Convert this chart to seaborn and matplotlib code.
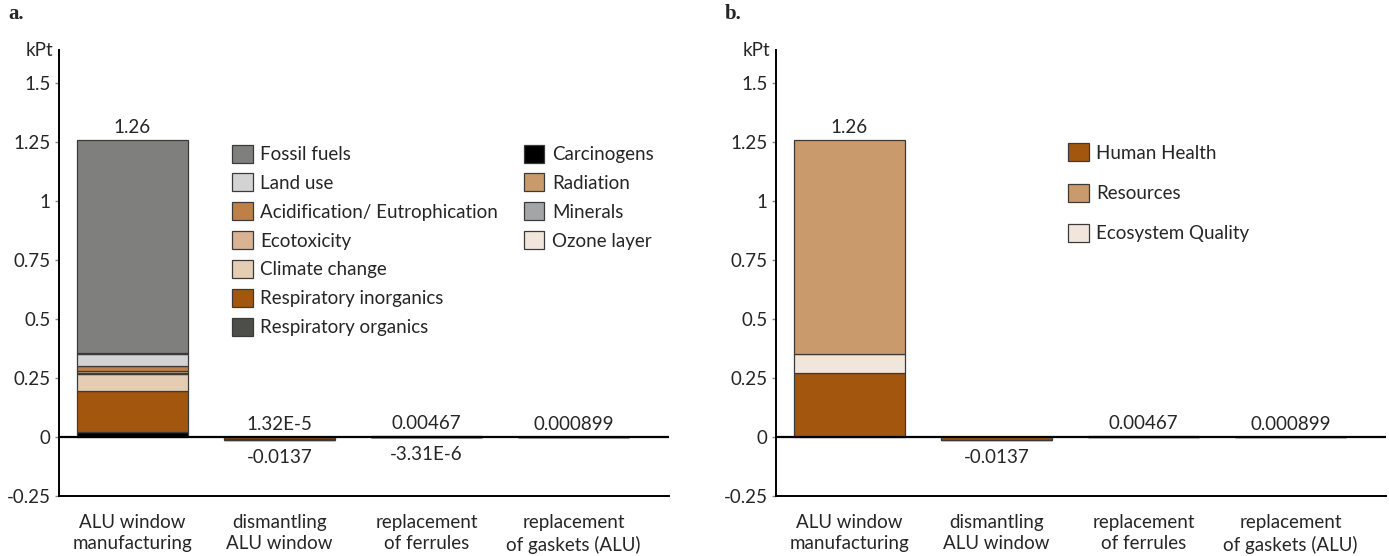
import numpy as np
import pandas as pd
import matplotlib
matplotlib.use("Agg")
import matplotlib.pyplot as plt
from matplotlib.patches import Patch
import seaborn as sns

sns.set_style("white")
plt.rcParams["font.family"] = ["Lato", "DejaVu Sans"]

# ---------------- data ----------------
stages = ["ALU window\nmanufacturing", "dismantling\nALU window",
          "replacement\nof ferrules", "replacement\nof gaskets (ALU)"]

# damage categories (kPt), per life-cycle stage, stacked bottom to top
carcinogens        = [0.020,  0.0,       0.00010,  0.000020]
respiratory_org    = [0.002,  0.0,       0.0,      0.0]
respiratory_inorg  = [0.175, -0.0090,    0.00110,  0.000220]
climate_change     = [0.072, -0.0025,    0.00040,  0.000090]
radiation          = [0.002,  0.0,       0.0,      0.0]
ozone_layer        = [0.001,  0.0,       0.0,      0.0]
ecotoxicity        = [0.006,  0.0,       0.0,      0.0]
acidification      = [0.022, -0.0007,    0.00007,  0.000019]
land_use           = [0.052,  1.32e-5,  -3.31e-6,  0.0]
minerals           = [0.005,  0.0,       0.0,      0.0]
fossil_fuels       = [0.903, -0.0015,    0.00300,  0.000550]

impact_names = ["Carcinogens", "Respiratory organics", "Respiratory inorganics",
                "Climate change", "Radiation", "Ozone layer", "Ecotoxicity",
                "Acidification/ Eutrophication", "Land use", "Minerals", "Fossil fuels"]
impact_values = [carcinogens, respiratory_org, respiratory_inorg, climate_change,
                 radiation, ozone_layer, ecotoxicity, acidification, land_use,
                 minerals, fossil_fuels]
impact_colors = ["#000000", "#4d4e4a", "#a3570e", "#e5cdb4", "#c99a6c", "#f1e6dc",
                 "#d8b494", "#bf8048", "#d3d3d3", "#a4a5a7", "#7f807e"]

# endpoint groups (sums of the impact categories above)
damage_names = ["Human Health", "Ecosystem Quality", "Resources"]
damage_members = [["Carcinogens", "Respiratory organics", "Respiratory inorganics",
                   "Climate change", "Radiation", "Ozone layer"],
                  ["Ecotoxicity", "Acidification/ Eutrophication", "Land use"],
                  ["Minerals", "Fossil fuels"]]
damage_colors = ["#a3570e", "#f1e6dc", "#c99a6c"]

legend_a_col1 = ["Fossil fuels", "Land use", "Acidification/ Eutrophication",
                 "Ecotoxicity", "Climate change", "Respiratory inorganics",
                 "Respiratory organics"]
legend_a_col2 = ["Carcinogens", "Radiation", "Minerals", "Ozone layer"]
legend_b = ["Human Health", "Resources", "Ecosystem Quality"]

yticks = [-0.25, 0, 0.25, 0.5, 0.75, 1, 1.25, 1.5]
ytick_labels = ["-0.25", "0", "0.25", "0.5", "0.75", "1", "1.25", "1.5"]

impact_table = pd.DataFrame(np.array(impact_values).T, index=stages, columns=impact_names)
damage_table = pd.DataFrame({name: impact_table[m].sum(axis=1)
                             for name, m in zip(damage_names, damage_members)})

EDGE = "#3a3a3a"
FS = 13.5


def fmt(v):
    s = f"{v:.3g}"
    if "e" in s:
        mant, ex = s.split("e")
        s = f"{mant}E{int(ex)}"
    return s


def stacked(ax, table, colors):
    pos_base = np.zeros(len(stages))
    neg_base = np.zeros(len(stages))
    for col, color in zip(table.columns, colors):
        vals = table[col].to_numpy()
        mask = vals != 0
        if not mask.any():
            continue
        bottoms = np.where(vals > 0, pos_base, neg_base)
        sub = pd.DataFrame({"stage": np.array(stages)[mask], "value": vals[mask]})
        sns.barplot(data=sub, x="stage", y="value", order=stages, bottom=bottoms[mask],
                    color=color, saturation=1, width=0.75, errorbar=None,
                    edgecolor=EDGE, linewidth=0.9, ax=ax, zorder=2)
        pos_base += np.where(vals > 0, vals, 0)
        neg_base += np.where(vals < 0, vals, 0)
    for i in range(len(stages)):
        if pos_base[i] > 0:
            ax.annotate(fmt(pos_base[i]), (i, pos_base[i]), xytext=(0, 3),
                        textcoords="offset points", ha="center", va="bottom", fontsize=FS)
        if neg_base[i] < 0:
            ax.annotate(fmt(neg_base[i]), (i, neg_base[i]), xytext=(0, -6.5),
                        textcoords="offset points", ha="center", va="top", fontsize=FS)


def style_axes(ax, letter):
    ax.set_xlim(-0.5, 3.65)
    ax.set_ylim(-0.25, 1.64)
    ax.axhline(0, color="black", lw=1.6, zorder=3)
    sns.despine(ax=ax)
    for sp in ("left", "bottom"):
        ax.spines[sp].set_color("black")
        ax.spines[sp].set_linewidth(1.4)
    ax.set_yticks(yticks)
    ax.set_yticklabels(ytick_labels, fontsize=FS)
    ax.tick_params(axis="y", length=3, width=1, color="#888888", pad=3, left=True)
    ax.tick_params(axis="x", length=0, pad=13, labelsize=FS)
    for lab in ax.get_xticklabels():
        lab.set_linespacing(1.3)
    ax.set_xlabel("")
    ax.set_ylabel("")
    ax.annotate("kPt", (0, 1), xycoords="axes fraction", xytext=(-4, 0),
                textcoords="offset points", ha="right", va="center", fontsize=FS)
    ax.figure.text(ax.get_position().x0 - 51 / 1389, 0.974, letter, fontsize=15,
                   fontweight="bold", family="Liberation Serif", va="center")


def patch_legend(ax, names, colors_by_name, anchor, spacing):
    handles = [Patch(facecolor=colors_by_name[n], edgecolor=EDGE, linewidth=0.9) for n in names]
    return ax.legend(handles, names, loc="upper left", bbox_to_anchor=anchor,
                     frameon=False, fontsize=FS, borderpad=0, borderaxespad=0,
                     handlelength=1.1, handleheight=1.1, handletextpad=0.4,
                     labelspacing=spacing)


fig = plt.figure(figsize=(13.89, 5.56), dpi=100)
ax_a = fig.add_axes([59 / 1389, 60 / 556, 610 / 1389, 446 / 556])
ax_b = fig.add_axes([776 / 1389, 60 / 556, 610 / 1389, 446 / 556])

stacked(ax_a, impact_table, impact_colors)
stacked(ax_b, damage_table, damage_colors)
style_axes(ax_a, "a.")
style_axes(ax_b, "b.")

col_a = dict(zip(impact_names, impact_colors))
leg1 = patch_legend(ax_a, legend_a_col1, col_a, (0.284, 0.788), 0.56)
ax_a.add_artist(leg1)
patch_legend(ax_a, legend_a_col2, col_a, (0.762, 0.788), 0.56)

col_b = dict(zip(damage_names, damage_colors))
patch_legend(ax_b, legend_b, col_b, (0.479, 0.791), 1.17)

fig.savefig("out.png", dpi=100)
